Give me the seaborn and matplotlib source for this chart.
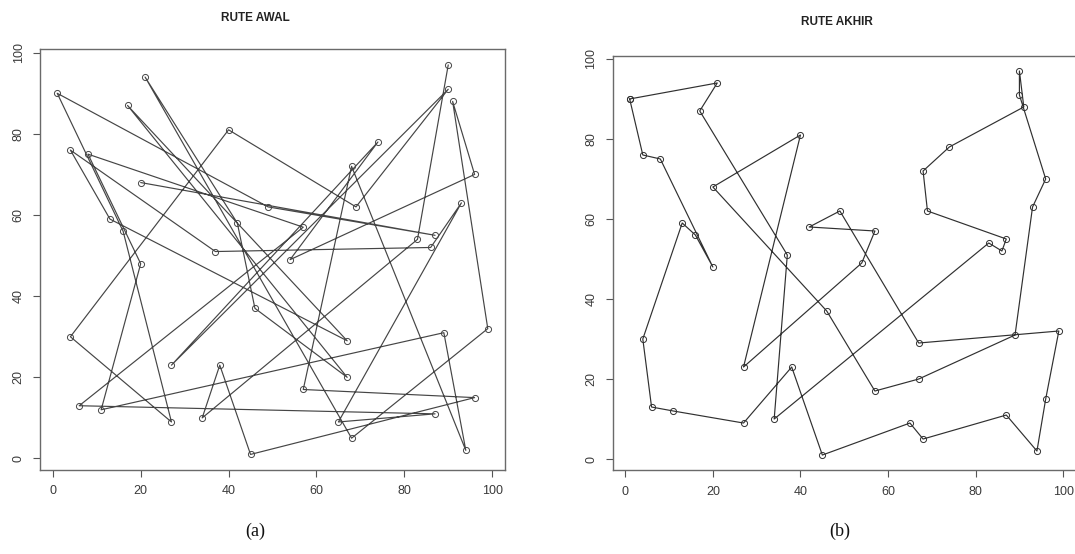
import matplotlib
matplotlib.use("Agg")
import matplotlib.pyplot as plt
import seaborn as sns
import pandas as pd

# City coordinates (index = city id)
city_x = [1, 21, 17, 4, 8, 13, 16, 20, 20, 40, 37, 42, 49, 57, 54, 46, 67, 89, 99, 96,
          94, 87, 68, 65, 45, 38, 34, 27, 27, 11, 6, 4, 57, 67, 83, 86, 87, 69, 68, 74,
          91, 90, 90, 96, 93]
city_y = [90, 94, 87, 76, 75, 59, 56, 48, 68, 81, 51, 58, 62, 57, 49, 37, 29, 31, 32, 15,
          2, 11, 5, 9, 1, 23, 10, 9, 23, 12, 13, 30, 17, 20, 54, 52, 55, 62, 72, 78,
          88, 91, 97, 70, 63]

# Visiting order of the initial route (a) and final route (b)
route_awal = [42, 34, 26, 25, 24, 19, 32, 38, 20, 17, 29, 7, 4, 13, 30, 21, 23, 44, 35, 10,
              3, 5, 16, 2, 33, 15, 11, 1, 22, 18, 40, 43, 14, 39, 28, 41, 37, 9, 31, 27,
              6, 0, 12, 36, 8]
route_akhir = [0, 1, 2, 10, 26, 34, 35, 36, 37, 38, 39, 40, 42, 41, 43, 44, 17, 33, 32, 15,
               8, 9, 28, 14, 13, 11, 12, 16, 18, 19, 20, 21, 22, 23, 24, 25, 27, 29, 30, 31,
               5, 6, 7, 4, 3, 0]

titles = ["RUTE AWAL", "RUTE AKHIR"]
captions = ["(a)", "(b)"]
ticks = [0, 20, 40, 60, 80, 100]

sns.set_theme(style="white")
plt.rcParams['font.family'] = ['Liberation Sans', 'DejaVu Sans']

W, H = 1075, 554
fig = plt.figure(figsize=(W / 100, H / 100), dpi=100)
fig.patch.set_facecolor("white")

boxes = [
    (40 / W, (H - 470) / H, 465 / W, (470 - 49.3) / H),
    (612.5 / W, (H - 470.4) / H, 463.5 / W, (470.4 - 55.6) / H),
]
title_pos = [(255 / W, 1 - 18 / H), (837 / W, 1 - 22 / H)]
cap_pos = [(255 / W, 1 - 531 / H), (840 / W, 1 - 531 / H)]

line_cols = ["#454545", "#303030"]
for i, route in enumerate([route_awal, route_akhir]):
    ax = fig.add_axes(boxes[i])
    df = pd.DataFrame({
        "x": [city_x[k] for k in route],
        "y": [city_y[k] for k in route],
    })
    col = line_cols[i]
    sns.lineplot(data=df, x="x", y="y", sort=False, estimator=None, ax=ax,
                 color=col, linewidth=0.85, marker="o", markersize=4.4,
                 markerfacecolor="none", markeredgecolor=col,
                 markeredgewidth=0.7)
    ax.set_xlim(-2.92, 102.92)
    ax.set_ylim(-2.84, 100.84)
    ax.set_xticks(ticks)
    ax.set_yticks(ticks)
    ax.set_xticklabels([str(t) for t in ticks])
    ax.set_yticklabels([str(t) for t in ticks], rotation=90, va="center")
    ax.set_xlabel("")
    ax.set_ylabel("")
    ax.tick_params(axis="both", direction="out", length=5, width=0.8,
                   color="#555555", labelsize=9, labelcolor="#3a3a3a", pad=6,
                   bottom=True, left=True)
    for sp in ax.spines.values():
        sp.set_visible(True)
        sp.set_color("#6a6a6a")
        sp.set_linewidth(1.0)
    ax.grid(False)
    ax.set_facecolor("white")
    fig.text(title_pos[i][0], title_pos[i][1], titles[i], ha="center", va="center",
             fontsize=8.5, fontweight="bold", color="#222222")
    fig.text(cap_pos[i][0], cap_pos[i][1], captions[i], ha="center", va="center",
             fontsize=13, family=["Liberation Serif", "DejaVu Serif"], color="#111111")

fig.savefig("out.png", dpi=100, facecolor="white")
